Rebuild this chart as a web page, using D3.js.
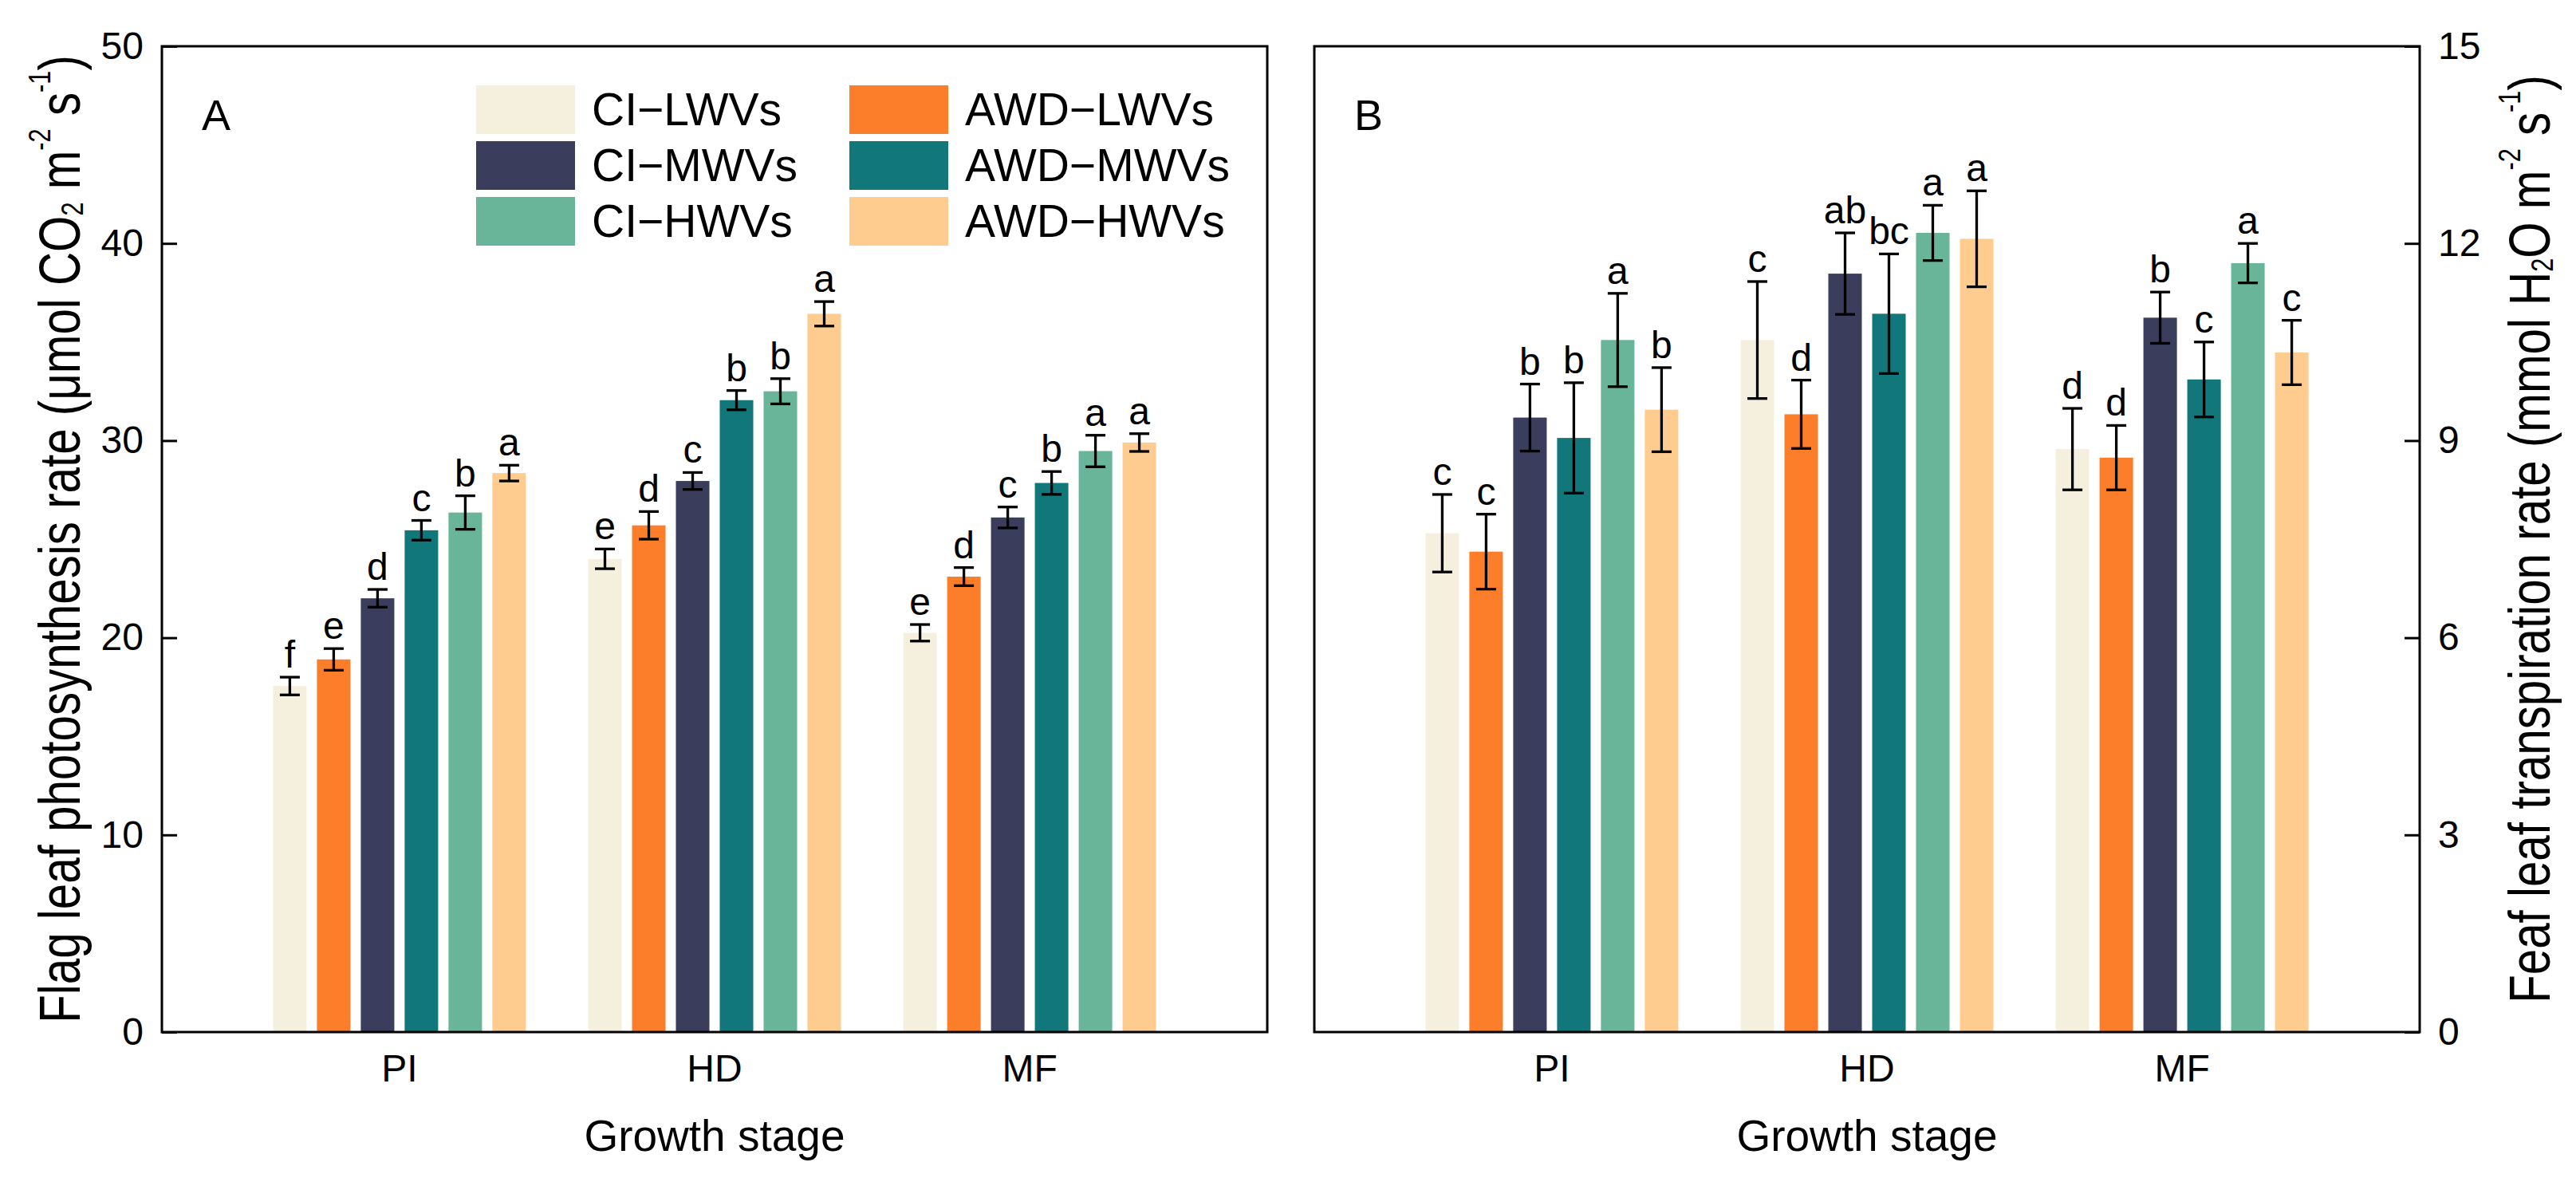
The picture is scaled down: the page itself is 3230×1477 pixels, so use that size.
<!DOCTYPE html>
<html>
<head>
<meta charset="utf-8">
<script src="https://cdn.jsdelivr.net/npm/d3@7"></script>
<style>
  body { margin: 0; background: #fff; }
  svg text { font-family: "Liberation Sans", Arial, sans-serif; fill: #000; }
</style>
</head>
<body>
<svg id="chart" width="3230" height="1477"></svg>
<script>
const STAGES = ["PI", "HD", "MF"];
const TREATMENTS = ["CI−LWVs", "AWD−LWVs", "CI−MWVs", "AWD−MWVs", "CI−HWVs", "AWD−HWVs"];
const COLORS = ["#F5EFDD", "#FC7E2B", "#3A3D5B", "#11777A", "#68B59A", "#FECC8E"];

// panel A: flag leaf photosynthesis rate, one row per stage, treatment order
const photoMean = [
  [17.55, 18.9, 22.0, 25.45, 26.35, 28.35],
  [24.0, 25.7, 27.95, 32.05, 32.5, 36.43],
  [20.25, 23.1, 26.1, 27.85, 29.47, 29.9]
];
const photoErr = [
  [0.45, 0.55, 0.45, 0.5, 0.85, 0.4],
  [0.5, 0.7, 0.43, 0.49, 0.64, 0.62],
  [0.42, 0.46, 0.53, 0.58, 0.8, 0.45]
];
const photoLetters = [
  ["f", "e", "d", "c", "b", "a"],
  ["e", "d", "c", "b", "b", "a"],
  ["e", "d", "c", "b", "a", "a"]
];
const photoTicks = [0, 10, 20, 30, 40, 50];

// panel B: leaf transpiration rate
const transMean = [
  [7.59, 7.31, 9.35, 9.04, 10.53, 9.47],
  [10.53, 9.4, 11.54, 10.93, 12.16, 12.07],
  [8.87, 8.74, 10.87, 9.93, 11.7, 10.34]
];
const transErr = [
  [0.59, 0.57, 0.51, 0.84, 0.71, 0.64],
  [0.89, 0.52, 0.62, 0.91, 0.42, 0.73],
  [0.62, 0.49, 0.39, 0.57, 0.3, 0.49]
];
const transLetters = [
  ["c", "c", "b", "b", "a", "b"],
  ["c", "d", "ab", "bc", "a", "a"],
  ["d", "d", "b", "c", "a", "c"]
];
const transTicks = [0, 3, 6, 9, 12, 15];

const svg = d3.select("#chart");
const TOP = 58, BOTTOM = 1294;

const color = d3.scaleOrdinal().domain(TREATMENTS).range(COLORS);

const drawPanel = (opt) => {
  const g = svg.append("g");
  const x = d3.scalePoint().domain(STAGES).range([opt.x0, opt.x1]).padding(0.754);
  const xi = d3.scaleBand().domain(TREATMENTS).range([-158.5, 158.5]).paddingInner(0.236);
  const y = d3.scaleLinear().domain([0, opt.max]).range([BOTTOM, TOP]);

  const rows = [];
  STAGES.forEach((s, si) => TREATMENTS.forEach((t, ti) => rows.push({
    stage: s, treat: t, v: opt.mean[si][ti], e: opt.err[si][ti], l: opt.letters[si][ti]
  })));

  const cells = g.selectAll("g.bar")
    .data(rows)
    .enter()
    .append("g")
    .attr("class", "bar")
    .attr("transform", d => `translate(${x(d.stage) + xi(d.treat)},0)`);

  cells.append("rect")
    .attr("width", xi.bandwidth())
    .attr("y", d => y(d.v))
    .attr("height", d => y(0) - y(d.v))
    .attr("fill", d => color(d.treat));

  const cx = xi.bandwidth() / 2;
  cells.append("line")
    .attr("x1", cx).attr("x2", cx)
    .attr("y1", d => y(d.v - d.e)).attr("y2", d => y(d.v + d.e))
    .attr("stroke", "#000").attr("stroke-width", 3.3);
  [-1, 1].forEach(k => {
    cells.append("line")
      .attr("x1", cx - 12.5).attr("x2", cx + 12.5)
      .attr("y1", d => y(d.v + k * d.e)).attr("y2", d => y(d.v + k * d.e))
      .attr("stroke", "#000").attr("stroke-width", 3.3);
  });
  cells.append("text")
    .attr("x", cx)
    .attr("y", d => y(d.v + d.e) - 12)
    .attr("text-anchor", "middle")
    .attr("font-size", "48px")
    .text(d => d.l);

  // frame
  g.append("rect")
    .attr("x", opt.x0).attr("y", TOP)
    .attr("width", opt.x1 - opt.x0).attr("height", BOTTOM - TOP)
    .attr("fill", "none").attr("stroke", "#000").attr("stroke-width", 3);

  // y axis, inward ticks
  const axisX = opt.right ? opt.x1 : opt.x0;
  const axis = (opt.right ? d3.axisRight(y) : d3.axisLeft(y))
    .tickValues(opt.ticks).tickSizeInner(-19).tickSizeOuter(0).tickPadding(23);
  const ya = g.append("g").attr("transform", `translate(${axisX},0)`).call(axis);
  ya.select(".domain").remove();
  ya.selectAll("line").attr("stroke-width", 3);
  ya.selectAll("text").attr("font-size", "48px").attr("font-family", null);

  // x labels
  g.selectAll("text.stage")
    .data(STAGES)
    .enter()
    .append("text")
    .attr("class", "stage")
    .attr("x", d => x(d))
    .attr("y", 1356)
    .attr("text-anchor", "middle")
    .attr("font-size", "48px")
    .text(d => d);

  g.append("text")
    .attr("x", (opt.x0 + opt.x1) / 2)
    .attr("y", 1443)
    .attr("text-anchor", "middle")
    .attr("font-size", "55px")
    .text("Growth stage");

  g.append("text")
    .attr("x", opt.x0 + 50)
    .attr("y", 163)
    .attr("font-size", "54px")
    .text(opt.label);

  // rotated y title with sub/superscripts
  const title = g.append("text")
    .attr("transform", `translate(${opt.titleX},${(TOP + BOTTOM) / 2}) rotate(-90) scale(0.81,1)`)
    .attr("text-anchor", "middle")
    .attr("font-size", "72px");
  opt.title.forEach(p => {
    title.append("tspan")
      .attr("dy", p.dy || 0)
      .attr("font-size", p.small ? "38px" : null)
      .text(p.t);
  });
  return { x, y };
};

drawPanel({
  x0: 203, x1: 1589, max: 50, ticks: photoTicks, right: false,
  mean: photoMean, err: photoErr, letters: photoLetters, label: "A", titleX: 100,
  title: [
    { t: "Flag leaf photosynthesis rate (μmol CO" },
    { t: "2", small: true, dy: 4 },
    { t: " m", dy: -4 },
    { t: "-2", small: true, dy: -37 },
    { t: " s", dy: 37 },
    { t: "-1", small: true, dy: -37 },
    { t: ")", dy: 37 }
  ]
});

drawPanel({
  x0: 1648, x1: 3034, max: 15, ticks: transTicks, right: true,
  mean: transMean, err: transErr, letters: transLetters, label: "B", titleX: 3197,
  title: [
    { t: "Feaf leaf transpiration rate (mmol H" },
    { t: "2", small: true, dy: 4 },
    { t: "O m", dy: -4 },
    { t: "-2", small: true, dy: -37 },
    { t: " s", dy: 37 },
    { t: "-1", small: true, dy: -37 },
    { t: ")", dy: 37 }
  ]
});

// legend, two columns of three
const legend = svg.append("g");
const legendItems = legend.selectAll("g")
  .data(TREATMENTS)
  .enter()
  .append("g")
  .attr("transform", (d, i) => `translate(${i % 2 === 0 ? 597 : 1065},${107 + Math.floor(i / 2) * 70})`);
legendItems.append("rect")
  .attr("width", 124)
  .attr("height", 61)
  .attr("fill", d => color(d));
legendItems.append("text")
  .attr("x", 145)
  .attr("y", 50)
  .attr("font-size", "57px")
  .text(d => d);
</script>
</body>
</html>
